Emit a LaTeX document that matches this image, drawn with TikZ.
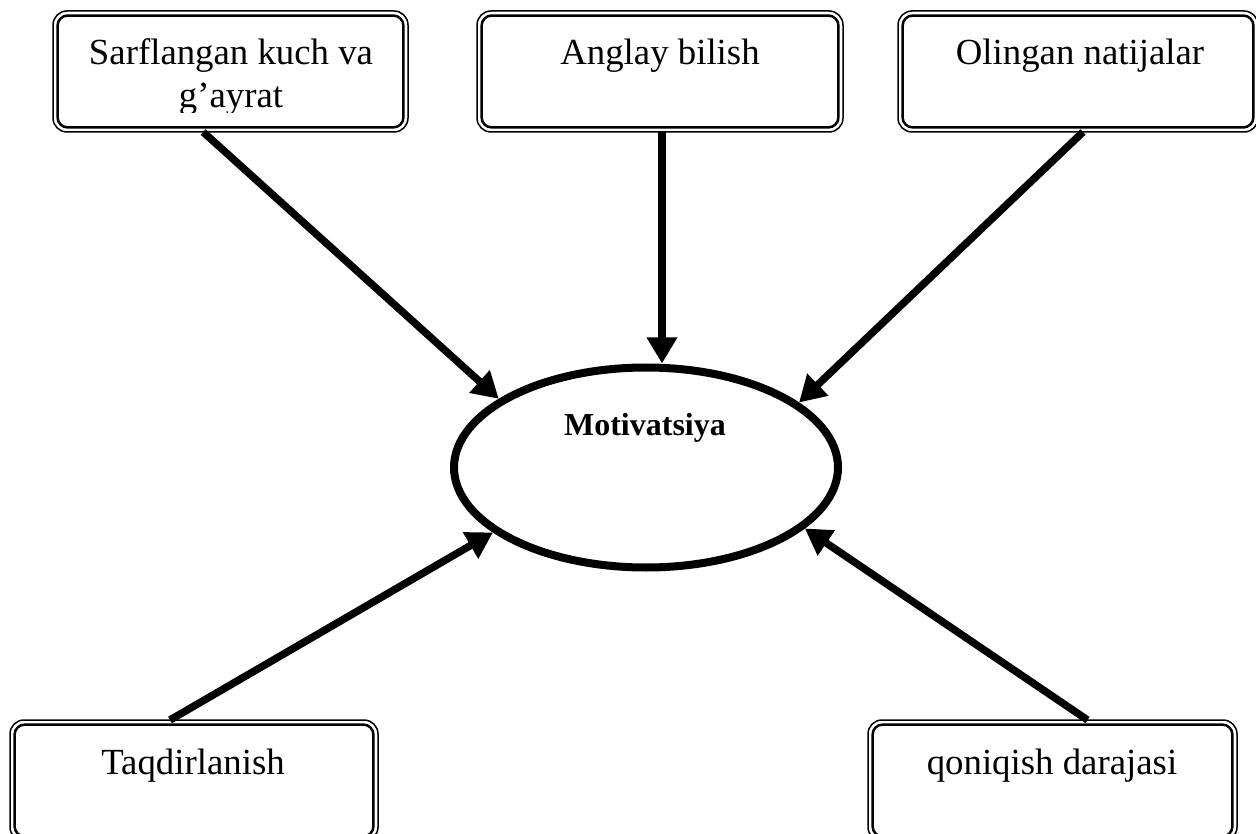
\documentclass[tikz,border=0pt]{standalone}
\usepackage{fontspec}
\setmainfont{Liberation Serif}
\usetikzlibrary{arrows.meta,calc,shapes.geometric}
\begin{document}
\begin{tikzpicture}[x=1pt,y=-1pt,
  boxo/.style={draw, line width=1.5pt, rounded corners=14pt, minimum width=#1, minimum height=121pt, inner sep=0pt, outer sep=0pt},
  boxi/.style={draw, line width=2.5pt, rounded corners=10pt},
  txt/.style={font=\fontsize{36.8}{43}\selectfont, anchor=base, inner sep=0pt},
  mtxt/.style={font=\fontsize{32}{37}\selectfont\bfseries, anchor=base, inner sep=0pt},
  oval/.style={ellipse, draw, line width=8pt, minimum width=384pt, minimum height=200pt, inner sep=0pt},
  arr/.style={line width=7.5pt, -{Triangle[length=26pt,width=29pt]}}
]
\useasboundingbox (0,0) rectangle (1256,834);
\clip (0,0) rectangle (1256,834);

% boxes
\node[boxo=355] (tl) at (230.5,71.5) {};
\node[boxo=366] (tm) at (660,71.5) {};
\node[boxo=360] (tr) at (1078,71.5) {};
\node[boxo=368] (bl) at (194,780.5) {};
\node[boxo=369] (br) at (1052.5,780.5) {};
\foreach \b in {tl,tm,tr,bl,br}{
  \draw[boxi] ([shift={(4.6,4.6)}]\b.north west) rectangle ([shift={(-4.6,-4.6)}]\b.south east);
}

% texts
\begin{scope}
  \clip (53,0) rectangle (408,113);
  \node[txt, align=center] (tlt) at (231,108) {Sarflangan kuch va\\g’ayrat};
\end{scope}
\node[txt] (tmt) at (660,65) {Anglay bilish};
\node[txt] (trt) at (1080,65) {Olingan natijalar};
\node[txt] (blt) at (193,774) {Taqdirlanish};
\node[txt] (brt) at (1052,774) {qoniqish darajasi};

% ellipse
\node[oval] (m) at (646,467.5) {};
\node[mtxt] (mt) at (645,435) {Motivatsiya};

% arrows
\coordinate (tms) at ($(tm.south)+(2,0)$);
\draw[arr] ($(tl.south west)!0.423!(tl.south east)$) -- (m.155);
\draw[arr] (tms) -- (tms |- m.north);
\draw[arr] ($(tr.south)+(5,0)$) -- (m.23);
\draw[arr] ($(bl.north)+(-24,0)$) -- (m.203);
\draw[arr] ($(br.north)+(35,0)$) -- (m.339);
\end{tikzpicture}
\end{document}
